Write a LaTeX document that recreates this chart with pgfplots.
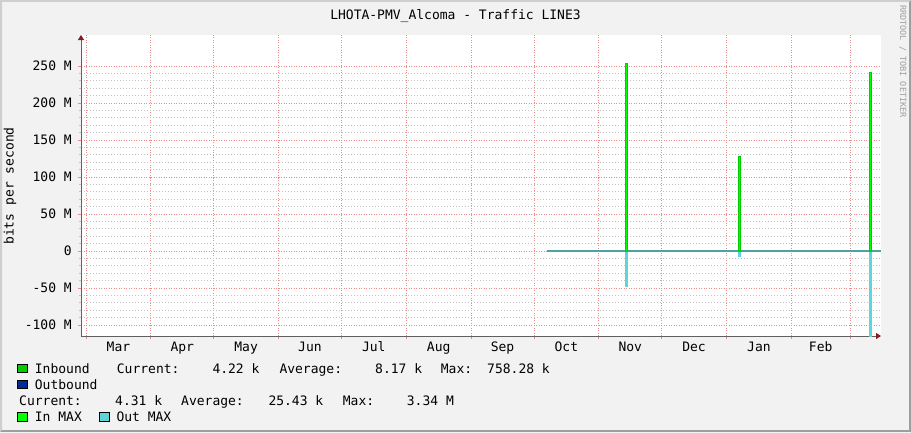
\documentclass[border=0pt]{standalone}
\usepackage{fontspec}
\setmainfont{DejaVu Sans Mono}
\usepackage{pgfplots}
\pgfplotsset{compat=1.18}
\usetikzlibrary{arrows.meta}
\definecolor{bgc}{HTML}{F2F2F2}
\definecolor{shadea}{HTML}{CFCFCF}
\definecolor{shadeb}{HTML}{9E9E9E}
\definecolor{inbound}{HTML}{00CC00}
\definecolor{outbound}{HTML}{002A97}
\definecolor{inmax}{HTML}{00FF00}
\definecolor{outmax}{HTML}{5CD6D6}
\definecolor{zeroc}{HTML}{4AA4A4}
\definecolor{mgridc}{HTML}{EE8C8C}
\definecolor{gridc}{HTML}{C2C2C2}
\definecolor{axisc}{HTML}{606060}
\definecolor{arrowc}{HTML}{8B1A1A}
\definecolor{wmark}{HTML}{A0A0A0}
\begin{document}
\begin{tikzpicture}[x=1pt,y=1pt,font=\fontsize{13}{15}\selectfont]
\useasboundingbox (0,0) rectangle (911,432);
\fill[bgc] (0,0) rectangle (911,432);
\fill[shadea] (0,432) -- (911,432) -- (909,430) -- (2,430) -- (2,2) -- (0,0) -- cycle;
\fill[shadeb] (911,432) -- (911,0) -- (0,0) -- (2,2) -- (909,2) -- (909,430) -- cycle;
\begin{axis}[
  at={(81pt,96pt)}, anchor=south west,
  scale only axis, width=800pt, height=301pt,
  xmin=-2.39, xmax=379.8, ymin=-114.9, ymax=291.9,
  axis x line=bottom, axis y line=left,
  axis line style={draw=axisc, line width=0.9pt},
  every outer x axis line/.append style={-{Triangle[length=5pt,width=6pt,color=arrowc]}},
  every outer y axis line/.append style={-{Triangle[length=5pt,width=6pt,color=arrowc]}},
  axis background/.style={fill=white},
  xtick={0,31,61,92,122,153,184,214,245,275,306,337,365},
  xticklabels={},
  extra x ticks={15.5,46,76.5,107,137.5,168.5,199,229.5,260,290.5,321.5,351},
  extra x tick labels={Mar,Apr,May,Jun,Jul,Aug,Sep,Oct,Nov,Dec,Jan,Feb},
  extra x tick style={grid=none, major tick length=0pt},
  ytick={-100,-50,0,50,100,150,200,250},
  yticklabels={-100 M,-50 M,0,50 M,100 M,150 M,200 M,250 M},
  minor y tick num=4,
  xmajorgrids, ymajorgrids, yminorgrids,
  major grid style={mgridc, line width=0.9pt, dash pattern=on 1pt off 1.5pt},
  minor grid style={gridc, line width=0.8pt, dash pattern=on 1.2pt off 1.8pt},
  tick align=outside,
  major tick length=3pt, minor tick length=2pt,
  every major tick/.append style={mgridc, line width=0.9pt},
  every minor tick/.append style={gridc, line width=0.8pt},
  xticklabel style={anchor=north, inner sep=0pt, text height=9.5pt, text depth=0pt, yshift=-6pt},
  yticklabel style={anchor=east, inner sep=0pt, text height=9.5pt, text depth=0pt, xshift=-6pt},
  clip=true,
]
% zero line (traffic near 0 bit/s)
\addplot[zeroc, line width=1.2pt] coordinates {(220,0.004) (300,0.004) (379.8,0.004)};
% Out MAX spikes
\addplot[fill=outmax, draw=outmax, line width=0.5pt] coordinates {(257.7,0) (257.7,-48) (258.7,-48) (258.7,0)} \closedcycle;
\addplot[fill=outmax, draw=outmax, line width=0.5pt] coordinates {(311.7,0) (311.7,-7.7) (312.6,-7.7) (312.6,0)} \closedcycle;
\addplot[fill=outmax, draw=outmax, line width=0.5pt] coordinates {(374.3,0) (374.3,-130) (375.2,-130) (375.2,0)} \closedcycle;
% In MAX spikes
\addplot[fill=inmax, draw=inbound, line width=0.7pt] coordinates {(257.8,0) (257.8,253.6) (258.6,253.6) (258.6,0)} \closedcycle;
\addplot[fill=inmax, draw=inbound, line width=0.7pt] coordinates {(311.7,0) (311.7,128.4) (312.5,128.4) (312.5,0)} \closedcycle;
\addplot[fill=inmax, draw=inbound, line width=0.7pt] coordinates {(374.3,0) (374.3,241.5) (375.1,241.5) (375.1,0)} \closedcycle;
\end{axis}
% title
\node[anchor=base, inner sep=0pt] at (455.5,412.7) {LHOTA-PMV\_Alcoma - Traffic LINE3};
% y label
\node[rotate=90, anchor=base, inner sep=0pt] at (13.5,246) {bits per second};
% watermark
\node[rotate=-90, anchor=base west, inner sep=0pt, text=wmark, font=\fontsize{8.5}{10}\selectfont] at (900,427) {RRDTOOL / TOBI OETIKER};
% legend
\fill[inbound, draw=black, line width=0.7pt] (17.8,59.2) rectangle (27,67.7);
\node[anchor=base west, inner sep=0pt] at (34.7,58.7) {Inbound};
\node[anchor=base west, inner sep=0pt] at (116.7,58.7) {Current:};
\node[anchor=base west, inner sep=0pt] at (212.3,58.7) {4.22 k};
\node[anchor=base west, inner sep=0pt] at (279.3,58.7) {Average:};
\node[anchor=base west, inner sep=0pt] at (375,58.7) {8.17 k};
\node[anchor=base west, inner sep=0pt] at (440.7,58.7) {Max:};
\node[anchor=base west, inner sep=0pt] at (487,58.7) {758.28 k};
\fill[outbound, draw=black, line width=0.7pt] (17.8,43.5) rectangle (27,52);
\node[anchor=base west, inner sep=0pt] at (34.7,43) {Outbound};
\node[anchor=base west, inner sep=0pt] at (19,27) {Current:};
\node[anchor=base west, inner sep=0pt] at (115,27) {4.31 k};
\node[anchor=base west, inner sep=0pt] at (181,27) {Average:};
\node[anchor=base west, inner sep=0pt] at (268.3,27) {25.43 k};
\node[anchor=base west, inner sep=0pt] at (342.7,27) {Max:};
\node[anchor=base west, inner sep=0pt] at (406.7,27) {3.34 M};
\fill[inmax, draw=black, line width=0.7pt] (17.8,10.8) rectangle (27,19.3);
\node[anchor=base west, inner sep=0pt] at (34.7,10.3) {In MAX};
\fill[outmax, draw=black, line width=0.7pt] (99.8,10.8) rectangle (109.2,19.3);
\node[anchor=base west, inner sep=0pt] at (116.3,10.3) {Out MAX};
\end{tikzpicture}
\end{document}
